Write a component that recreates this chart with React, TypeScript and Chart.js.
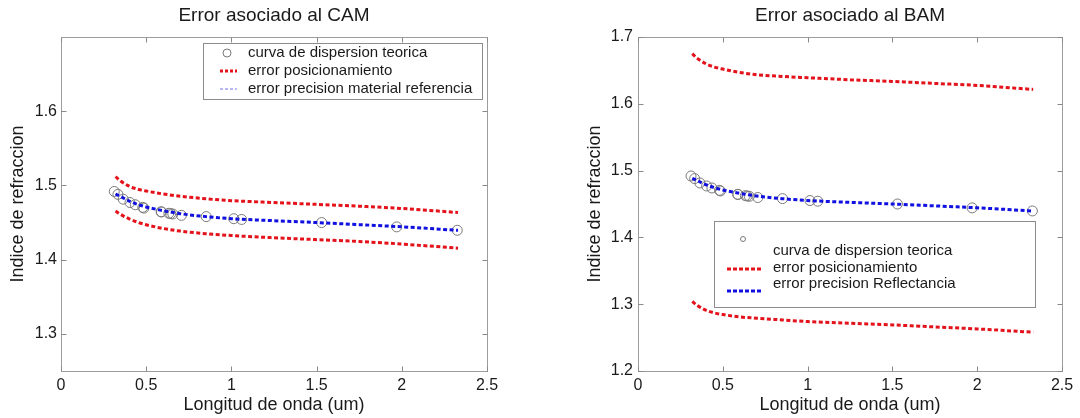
import React, { useEffect, useRef } from 'react';
import { Chart, registerables } from 'chart.js';

Chart.register(...registerables);

const FONT = "'Liberation Sans', Arial, Helvetica, sans-serif";

// Theoretical dispersion curve points (wavelength in um, refractive index)
const wavelengths = [0.3126, 0.3341, 0.365, 0.4047, 0.4358, 0.48, 0.4861, 0.5876, 0.5893, 0.6328, 0.6438, 0.6563, 0.7065, 0.8521, 1.014, 1.06, 1.5296, 1.9701, 2.3254];
const theoreticalIndex = [1.4919, 1.488, 1.4815, 1.477, 1.474, 1.4705, 1.4695, 1.4645, 1.4643, 1.4625, 1.462, 1.4615, 1.4597, 1.458, 1.4552, 1.4542, 1.45, 1.4442, 1.4396];

// Error curves sampled at these wavelengths
const curveX = [0.32, 0.35, 0.4, 0.45, 0.5, 0.6, 0.7, 0.85, 1.0, 1.25, 1.5, 1.75, 2.0, 2.33];
const centralIndex = [1.4885, 1.485, 1.479, 1.4745, 1.471, 1.466, 1.462, 1.458, 1.4552, 1.4525, 1.45, 1.4472, 1.4443, 1.4395];

// CAM (left)
const camUpper = [1.512, 1.506, 1.499, 1.495, 1.4925, 1.4885, 1.4855, 1.482, 1.4795, 1.477, 1.4745, 1.472, 1.469, 1.4635];
const camLower = [1.4655, 1.461, 1.455, 1.4505, 1.447, 1.442, 1.4385, 1.435, 1.4325, 1.4295, 1.427, 1.4245, 1.421, 1.4155];

// BAM (right)
const bamUpper = [1.675, 1.668, 1.66, 1.655, 1.652, 1.647, 1.6435, 1.641, 1.639, 1.636, 1.6335, 1.6305, 1.6275, 1.6215];
const bamLower = [1.304, 1.298, 1.291, 1.287, 1.2845, 1.281, 1.279, 1.2765, 1.274, 1.2715, 1.269, 1.266, 1.263, 1.258];

const xTicks = [0, 0.5, 1, 1.5, 2, 2.5];
const camYTicks = [1.3, 1.4, 1.5, 1.6];
const bamYTicks = [1.2, 1.3, 1.4, 1.5, 1.6, 1.7];

const legendLabels = {
  curve: 'curva de dispersion teorica',
  pos: 'error posicionamiento',
  camPrec: 'error precision material referencia',
  bamPrec: 'error precision Reflectancia',
};

const RED = '#e3121b';
const BLUE = '#1010e0';
const TEXT = '#1a1a1a';

type LegendEntry = {
  kind: 'circle' | 'line';
  mx1: number;
  mx2: number;
  my: number;
  ty: number;
  tx: number;
  label: string;
  color: string;
  width: number;
  dash?: number[];
  r?: number;
};

type DecorCfg = {
  title: string;
  legendBox: { x: number; y: number; w: number; h: number };
  entries: LegendEntry[];
};

function makeDecor(cfg: DecorCfg) {
  return {
    id: 'decor',
    afterDraw(chart: any) {
      const { ctx, chartArea: a, scales } = chart;
      ctx.save();
      // frame
      ctx.strokeStyle = '#9c9c9c';
      ctx.lineWidth = 1;
      const L = Math.round(a.left) + 0.5;
      const R = Math.round(a.right) + 0.5;
      const T = Math.round(a.top) + 0.5;
      const B = Math.round(a.bottom) + 0.5;
      ctx.strokeRect(L, T, R - L, B - T);
      // inner tick marks
      ctx.strokeStyle = '#8a8a8a';
      ctx.beginPath();
      scales.x.ticks.forEach((t: any) => {
        const px = Math.round(scales.x.getPixelForValue(t.value)) + 0.5;
        ctx.moveTo(px, B);
        ctx.lineTo(px, B - 5);
        ctx.moveTo(px, T);
        ctx.lineTo(px, T + 5);
      });
      scales.y.ticks.forEach((t: any) => {
        const py = Math.round(scales.y.getPixelForValue(t.value)) + 0.5;
        ctx.moveTo(L, py);
        ctx.lineTo(L + 5, py);
        ctx.moveTo(R, py);
        ctx.lineTo(R - 5, py);
      });
      ctx.stroke();
      // title
      ctx.fillStyle = TEXT;
      ctx.font = `19px ${FONT}`;
      ctx.textAlign = 'center';
      ctx.textBaseline = 'middle';
      ctx.fillText(cfg.title, (a.left + a.right) / 2, 16);
      // legend
      const b = cfg.legendBox;
      ctx.fillStyle = '#ffffff';
      ctx.fillRect(b.x, b.y, b.w, b.h);
      ctx.strokeStyle = '#8c8c8c';
      ctx.lineWidth = 1;
      ctx.strokeRect(b.x + 0.5, b.y + 0.5, b.w, b.h);
      ctx.font = `15px ${FONT}`;
      ctx.textAlign = 'left';
      ctx.textBaseline = 'middle';
      cfg.entries.forEach((e) => {
        if (e.kind === 'circle') {
          ctx.strokeStyle = e.color;
          ctx.lineWidth = e.width;
          ctx.setLineDash([]);
          ctx.beginPath();
          ctx.arc((e.mx1 + e.mx2) / 2, e.my, e.r || 4, 0, Math.PI * 2);
          ctx.stroke();
        } else {
          ctx.strokeStyle = e.color;
          ctx.lineWidth = e.width;
          ctx.setLineDash(e.dash || []);
          ctx.beginPath();
          ctx.moveTo(e.mx1, e.my);
          ctx.lineTo(e.mx2, e.my);
          ctx.stroke();
          ctx.setLineDash([]);
        }
        ctx.fillStyle = TEXT;
        ctx.fillText(e.label, e.tx, e.ty);
      });
      ctx.restore();
    },
  };
}

type PanelCfg = {
  title: string;
  yMin: number;
  yMax: number;
  yTicks: number[];
  upper: number[];
  lower: number[];
  precLabel: string;
  padding: { left: number; right: number; top: number; bottom: number };
  yWidth: number;
  xHeight: number;
  yTickPad: number;
  yTitlePad: number;
  decor: DecorCfg;
};

function buildConfig(p: PanelCfg): any {
  const pts = (ys: number[]) => curveX.map((x, i) => ({ x, y: ys[i] }));
  const lineDs = (label: string, ys: number[], color: string, order: number) => ({
    label,
    data: pts(ys),
    showLine: true,
    borderColor: color,
    backgroundColor: color,
    borderWidth: 3,
    borderDash: [4, 2.5],
    borderCapStyle: 'butt',
    pointRadius: 0,
    cubicInterpolationMode: 'monotone',
    order,
  });
  return {
    type: 'scatter',
    data: {
      datasets: [
        lineDs(p.precLabel, centralIndex, BLUE, 0),
        {
          label: legendLabels.curve,
          data: wavelengths.map((x, i) => ({ x, y: theoreticalIndex[i] })),
          showLine: false,
          pointStyle: 'circle',
          pointRadius: 5,
          pointBorderWidth: 1,
          borderColor: '#7a7a7a',
          backgroundColor: 'rgba(0,0,0,0)',
          order: 1,
        },
        lineDs(legendLabels.pos, p.upper, RED, 2),
        lineDs(legendLabels.pos, p.lower, RED, 3),
      ],
    },
    options: {
      responsive: false,
      animation: false,
      devicePixelRatio: 1,
      layout: { padding: p.padding },
      plugins: {
        legend: { display: false },
        title: { display: false },
        tooltip: { enabled: false },
      },
      scales: {
        x: {
          type: 'linear',
          min: 0,
          max: 2.5,
          grid: { display: false, drawTicks: false },
          border: { display: false },
          afterBuildTicks: (s: any) => {
            s.ticks = xTicks.map((v) => ({ value: v }));
          },
          afterFit: (s: any) => {
            s.height = p.xHeight;
            s.paddingLeft = 0;
            s.paddingRight = 0;
          },
          ticks: {
            padding: 5,
            color: TEXT,
            font: { family: FONT, size: 16 },
            callback: (v: any) => String(Number(v)),
            maxRotation: 0,
            autoSkip: false,
          },
          title: {
            display: true,
            text: 'Longitud de onda (um)',
            color: TEXT,
            font: { family: FONT, size: 18 },
            padding: { top: 0, bottom: 2 },
          },
        },
        y: {
          type: 'linear',
          min: p.yMin,
          max: p.yMax,
          grid: { display: false, drawTicks: false },
          border: { display: false },
          afterBuildTicks: (s: any) => {
            s.ticks = p.yTicks.map((v) => ({ value: v }));
          },
          afterFit: (s: any) => {
            s.width = p.yWidth;
            s.paddingTop = 0;
            s.paddingBottom = 0;
          },
          ticks: {
            padding: p.yTickPad,
            color: TEXT,
            font: { family: FONT, size: 16 },
            callback: (v: any) => String(Number(v)),
            autoSkip: false,
          },
          title: {
            display: true,
            text: 'Indice de refraccion',
            color: TEXT,
            font: { family: FONT, size: 18 },
            padding: { top: p.yTitlePad, bottom: 0 },
          },
        },
      },
    },
    plugins: [makeDecor(p.decor)],
  };
}

const camPanel: PanelCfg = {
  title: 'Error asociado al CAM',
  yMin: 1.25,
  yMax: 1.7,
  yTicks: camYTicks,
  upper: camUpper,
  lower: camLower,
  precLabel: legendLabels.camPrec,
  padding: { left: 0, right: 53, top: 37, bottom: 0 },
  yWidth: 61,
  xHeight: 47,
  yTickPad: 4,
  yTitlePad: 7,
  decor: {
    title: 'Error asociado al CAM',
    legendBox: { x: 203, y: 43, w: 279, h: 56 },
    entries: [
      { kind: 'circle', mx1: 220, mx2: 234, my: 53, tx: 248, ty: 53, label: legendLabels.curve, color: '#7a7a7a', width: 1, r: 4 },
      { kind: 'line', mx1: 220, mx2: 237, my: 71, tx: 248, ty: 71, label: legendLabels.pos, color: RED, width: 3, dash: [3, 2] },
      { kind: 'line', mx1: 220, mx2: 237, my: 89, tx: 248, ty: 89, label: legendLabels.camPrec, color: '#7070ee', width: 1, dash: [3, 2] },
    ],
  },
};

const bamPanel: PanelCfg = {
  title: 'Error asociado al BAM',
  yMin: 1.2,
  yMax: 1.7,
  yTicks: bamYTicks,
  upper: bamUpper,
  lower: bamLower,
  precLabel: legendLabels.bamPrec,
  padding: { left: 37, right: 18, top: 37, bottom: 0 },
  yWidth: 61,
  xHeight: 47,
  yTickPad: 5,
  yTitlePad: 7,
  decor: {
    title: 'Error asociado al BAM',
    legendBox: { x: 174, y: 221, w: 321, h: 86 },
    entries: [
      { kind: 'circle', mx1: 200, mx2: 206, my: 239, tx: 233, ty: 251, label: legendLabels.curve, color: '#7a7a7a', width: 1, r: 2.5 },
      { kind: 'line', mx1: 187, mx2: 222, my: 269, tx: 233, ty: 268, label: legendLabels.pos, color: RED, width: 3, dash: [4, 2] },
      { kind: 'line', mx1: 187, mx2: 222, my: 291, tx: 233, ty: 284, label: legendLabels.bamPrec, color: BLUE, width: 3, dash: [4, 2] },
    ],
  },
};

function Panel({ cfg, left }: { cfg: PanelCfg; left: number }) {
  const ref = useRef<HTMLCanvasElement | null>(null);
  useEffect(() => {
    if (!ref.current) return;
    const chart = new Chart(ref.current, buildConfig(cfg));
    return () => chart.destroy();
  }, [cfg]);
  return (
    <canvas
      ref={ref}
      width={540}
      height={418}
      style={{ position: 'absolute', left, top: 0, width: 540, height: 418 }}
    />
  );
}

export default function App() {
  return (
    <div style={{ position: 'fixed', left: 0, top: 0, width: 1080, height: 418, background: '#ffffff' }}>
      <Panel cfg={camPanel} left={0} />
      <Panel cfg={bamPanel} left={540} />
    </div>
  );
}
